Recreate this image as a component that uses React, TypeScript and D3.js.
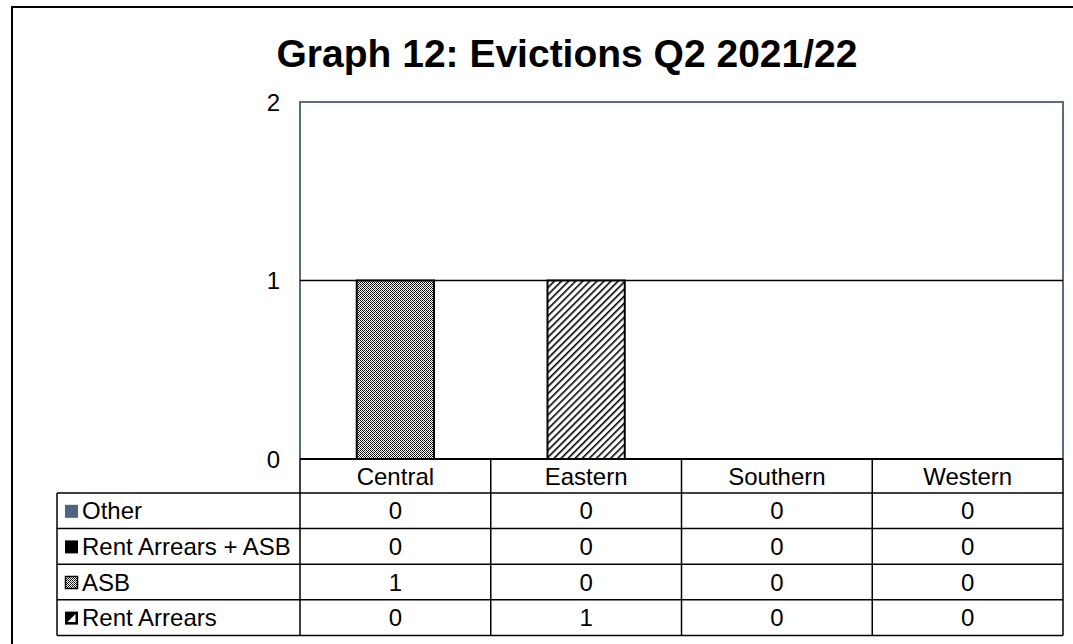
import React from "react";
import * as d3 from "d3";

const categories = ["Central", "Eastern", "Southern", "Western"];
const seriesNames = ["Other", "Rent Arrears + ASB", "ASB", "Rent Arrears"];
const otherValues = [0, 0, 0, 0];
const rentAsbValues = [0, 0, 0, 0];
const asbValues = [1, 0, 0, 0];
const rentArrearsValues = [0, 1, 0, 0];
const yTicks = [0, 1, 2];
const title = "Graph 12: Evictions Q2 2021/22";

const tableRows = [
  { name: seriesNames[0], values: otherValues, key: "other" },
  { name: seriesNames[1], values: rentAsbValues, key: "rentasb" },
  { name: seriesNames[2], values: asbValues, key: "asb" },
  { name: seriesNames[3], values: rentArrearsValues, key: "rent" },
];
// stacked order bottom to top: Rent Arrears, ASB, Rent Arrears + ASB, Other
const stackOrder = ["rent", "asb", "rentasb", "other"];

export default function App() {
  const W = 1073, H = 644;
  const left = 300, right = 1063, top = 102, bottom = 459;
  const tableLeft = 57;
  const rowH = 35.6;
  const catRowBottom = 493;
  const fs = 24;

  const x = d3.scaleBand().domain(categories).range([left, right]).paddingInner(0).paddingOuter(0);
  const y = d3.scaleLinear().domain([0, 2]).range([bottom, top]);
  const barW = x.bandwidth() * 0.405;

  const fills: Record<string, string> = {
    other: "#4F6382",
    rentasb: "#000",
    asb: "url(#pAsb)",
    rent: "url(#pRent)",
  };

  const font = "'Liberation Sans', Arial, sans-serif";

  const bars: JSX.Element[] = [];
  categories.forEach((c, ci) => {
    let acc = 0;
    stackOrder.forEach((k) => {
      const row = tableRows.find((r) => r.key === k)!;
      const v = row.values[ci];
      if (v > 0) {
        const y0 = y(acc), y1 = y(acc + v);
        bars.push(
          <rect key={c + k} x={x(c)! + (x.bandwidth() - barW) / 2} y={y1} width={barW} height={y0 - y1}
            fill={fills[k]} stroke="#000" strokeWidth={2} />
        );
      }
      acc += v;
    });
  });

  const rowTops = tableRows.map((_, i) => catRowBottom + i * rowH);
  const tableBottom = catRowBottom + tableRows.length * rowH;

  return (
    <svg width={W} height={H} style={{ position: "absolute", left: 0, top: 0, background: "#fff" }}
      fontFamily={font}>
      <defs>
        <pattern id="pAsb" width="4" height="4" patternUnits="userSpaceOnUse">
          <rect width="4" height="4" fill="#fff" />
          <rect x="0" y="0" width="1" height="1" fill="#000" />
          <rect x="2" y="0" width="1" height="1" fill="#000" />
          <rect x="1" y="1" width="1" height="1" fill="#000" />
          <rect x="3" y="1" width="1" height="1" fill="#666" />
          <rect x="0" y="2" width="1" height="1" fill="#000" />
          <rect x="2" y="2" width="1" height="1" fill="#000" />
          <rect x="1" y="3" width="1" height="1" fill="#666" />
          <rect x="3" y="3" width="1" height="1" fill="#000" />
        </pattern>
        <pattern id="pRent" width="5" height="5" patternUnits="userSpaceOnUse" patternTransform="rotate(45)">
          <rect width="5" height="5" fill="#fff" />
          <rect x="0" y="0" width="1.6" height="5" fill="#000" />
        </pattern>
      </defs>
      <rect x={0} y={0} width={W} height={H} fill="#fff" />
      {/* outer border */}
      <rect x={12} y={7} width={W + 20} height={H + 20} fill="none" stroke="#000" strokeWidth={2} />

      <text x={567} y={67} textAnchor="middle" fontSize={39} fontWeight="bold" fill="#000">{title}</text>

      {/* plot area border */}
      <path d={`M${left},${bottom}V${top}H${right}V${bottom}`} fill="none" stroke="#5B6B84" strokeWidth={2} />
      {/* gridline */}
      {yTicks.filter((t) => t > 0 && t < 2).map((t) => (
        <line key={t} x1={left} x2={right} y1={y(t)} y2={y(t)} stroke="#000" strokeWidth={1.5} />
      ))}
      {yTicks.map((t) => (
        <text key={"yt" + t} x={280} y={y(t) + 8.5} textAnchor="end" fontSize={fs} fill="#000">{t}</text>
      ))}

      {bars}

      {/* axis line */}
      <line x1={left} x2={right} y1={bottom} y2={bottom} stroke="#000" strokeWidth={2} />

      {/* category cells */}
      {categories.map((c) => (
        <text key={"c" + c} x={x(c)! + x.bandwidth() / 2} y={485} textAnchor="middle" fontSize={fs} fill="#000">{c}</text>
      ))}
      {categories.map((c) => (
        <line key={"cl" + c} x1={x(c)!} x2={x(c)!} y1={bottom} y2={tableBottom} stroke="#000" strokeWidth={1.5} />
      ))}
      <line x1={right} x2={right} y1={bottom} y2={tableBottom} stroke="#000" strokeWidth={1.5} />

      {/* data table */}
      <line x1={tableLeft} x2={tableLeft} y1={catRowBottom} y2={tableBottom} stroke="#000" strokeWidth={1.5} />
      {rowTops.map((ry, i) => (
        <line key={"rl" + i} x1={tableLeft} x2={right} y1={ry} y2={ry} stroke="#000" strokeWidth={1.5} />
      ))}
      <line x1={tableLeft} x2={right} y1={tableBottom} y2={tableBottom} stroke="#000" strokeWidth={1.5} />

      {tableRows.map((r, i) => {
        const cy = rowTops[i] + rowH / 2;
        return (
          <g key={"row" + r.key}>
            {r.key === "asb" ? (
              <rect x={65.5} y={cy - 5.5} width={12} height={12} fill="url(#pAsb)" stroke="#000" strokeWidth={1.5} />
            ) : r.key === "rent" ? (
              <g>
                <rect x={65} y={cy - 6} width={13} height={13} fill="#000" />
                <path d={`M${67.5},${cy + 4.5}L${75.5},${cy - 3.5}L${75.5},${cy + 4.5}Z`} fill="#fff" />
              </g>
            ) : (
              <rect x={65} y={cy - 6} width={13} height={13} fill={fills[r.key]} />
            )}
            <text x={82} y={cy + 8.5} fontSize={fs} fill="#000">{r.name}</text>
            {r.values.map((v, ci) => (
              <text key={ci} x={x(categories[ci])! + x.bandwidth() / 2} y={cy + 8.5} textAnchor="middle" fontSize={fs} fill="#000">{v}</text>
            ))}
          </g>
        );
      })}
    </svg>
  );
}
